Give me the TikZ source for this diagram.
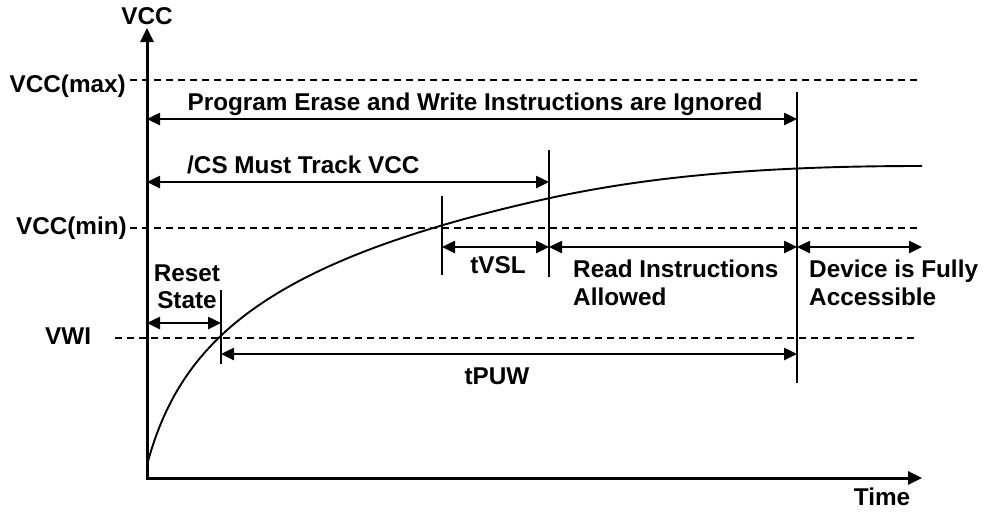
\documentclass[tikz,border=0pt]{standalone}
\usepackage{fontspec}
\setmainfont{Liberation Sans}
\usetikzlibrary{arrows.meta}
\begin{document}
\begin{tikzpicture}[x=1pt,y=-1pt,
  lbl/.style={font=\bfseries\fontsize{24.3}{28}\selectfont, inner sep=0pt, text=black},
  axisline/.style={line width=3pt, {Triangle[length=14pt,width=13pt]}-{Triangle[length=14pt,width=13pt]}},
  dimline/.style={line width=2.5pt, {Triangle[length=13pt,width=12pt]}-{Triangle[length=13pt,width=12pt]}},
  levelline/.style={line width=1.4pt, dash pattern=on 7pt off 5pt},
  marker/.style={line width=1.6pt},
  curveline/.style={line width=1.9pt}
]
\useasboundingbox (0,0) rectangle (983,512);

% axes
\coordinate (ytop) at (147,28);
\coordinate (orig) at (147,478);
\coordinate (xend) at (922,478);
\draw[axisline] (ytop) -- (orig) -- (xend);
\node[lbl] (vcc) at (147,16) {VCC};
\node[lbl, anchor=base] (time) at (882,505) {Time};

% level lines
\coordinate (maxL) at (130,80);  \coordinate (maxR) at (917,80);
\coordinate (minL) at (130,228); \coordinate (minR) at (917,228);
\coordinate (vwiL) at (115,338); \coordinate (vwiR) at (917,338);
\draw[levelline] (maxL) -- (maxR);
\draw[levelline] (minL) -- (minR);
\draw[levelline] (vwiL) -- (vwiR);
\node[lbl, anchor=base east] (lmax) at (126,92) {VCC(max)};
\node[lbl, anchor=base east] (lmin) at (127,234) {VCC(min)};
\node[lbl, anchor=base west] (lvwi) at (45,344) {VWI};

% markers
\coordinate (m1t) at (221,290); \coordinate (m1b) at (221,364);
\coordinate (m2t) at (442,196); \coordinate (m2b) at (442,275);
\coordinate (m3t) at (549,150); \coordinate (m3b) at (549,277);
\coordinate (m4t) at (797,92);  \coordinate (m4b) at (797,383);
\draw[marker] (m1t) -- (m1b);
\draw[marker] (m2t) -- (m2b);
\draw[marker] (m3t) -- (m3b);
\draw[marker] (m4t) -- (m4b);

% curve
\draw[curveline] plot[domain=0:20.05, samples=160, variable=\t]
  ({147+\t*\t},{465-94*ln(1+\t*\t/25)})
  .. controls (660,174) and (780,166) .. (922,166);

% dimension arrows
\coordinate (pL) at (147,119); \coordinate (pR) at (797,119);
\draw[dimline] (pL) -- (pR);
\node[lbl, anchor=base] (tprog) at (475,110) {Program Erase and Write Instructions are Ignored};

\coordinate (cL) at (147,182); \coordinate (cR) at (549,182);
\draw[dimline] (cL) -- (cR);
\node[lbl, anchor=base west] (tcs) at (187,173) {/CS Must Track VCC};

\coordinate (vA) at (442,247); \coordinate (vB) at (549,247);
\coordinate (vC) at (797,247); \coordinate (vD) at (922,247);
\draw[dimline] (vA) -- (vB);
\draw[dimline] (vB) -- (vC);
\draw[dimline] (vC) -- (vD);
\node[lbl, anchor=base] (ttvsl) at (498,273) {tVSL};
\node[lbl, anchor=base west] (tread1) at (573,277) {Read Instructions};
\node[lbl, anchor=base west] (tread2) at (573,305) {Allowed};
\node[lbl, anchor=base west] (tdev1) at (809,277) {Device is Fully};
\node[lbl, anchor=base west] (tdev2) at (809,305) {Accessible};

\coordinate (rL) at (147,323); \coordinate (rR) at (221,323);
\draw[dimline] (rL) -- (rR);
\node[lbl, anchor=base] (treset1) at (187,281) {Reset};
\node[lbl, anchor=base] (treset2) at (187,308) {State};

\coordinate (uL) at (221,354); \coordinate (uR) at (797,354);
\draw[dimline] (uL) -- (uR);
\node[lbl, anchor=base] (ttpuw) at (497,384) {tPUW};
\end{tikzpicture}
\end{document}
